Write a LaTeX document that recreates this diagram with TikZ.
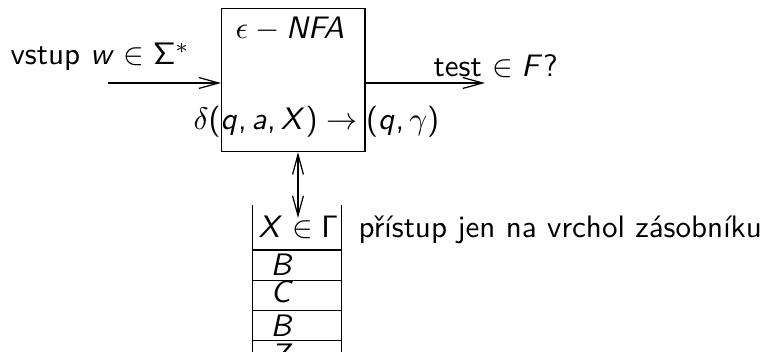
\documentclass[tikz,border=0pt]{standalone}
\usetikzlibrary{arrows.meta}
\DeclareMathAlphabet{\mathsfit}{OT1}{cmss}{m}{sl}
\DeclareSymbolFont{sfoperators}{OT1}{cmss}{m}{n}
\DeclareMathSymbol{(}{\mathopen}{sfoperators}{"28}
\DeclareMathSymbol{)}{\mathclose}{sfoperators}{"29}
\DeclareMathSymbol{,}{\mathpunct}{sfoperators}{"2C}
\DeclareMathSymbol{?}{\mathclose}{sfoperators}{"3F}
\tikzset{
  lbl/.style={anchor=base west, inner sep=0pt, font=\sffamily},
  arr/.style={-{Straight Barb[length=6.4pt,width=3.5pt]}},
  darr/.style={{Straight Barb[length=6.4pt,width=3.5pt]}-{Straight Barb[length=6.4pt,width=3.5pt]}},
  machine/.style={draw, minimum width=46.1pt, minimum height=46.1pt, inner sep=0pt},
}
\begin{document}
\begin{tikzpicture}[x=0.322pt,y=-0.322pt]
\useasboundingbox (0,0) rectangle (762,352);
% machine box
\node[machine] (nfa) at (293.3,80) {};
\node[lbl] (title) at (235,39) {$\epsilon - \mathsfit{NFA}$};
\node[lbl] (delta) at (193,130) {$\delta(\mathsfit{q}, \mathsfit{a}, \mathsfit{X}) \rightarrow (\mathsfit{q}, \gamma)$};
% input
\node[lbl] (vstup) at (10,65) {vstup $\mathsfit{w} \in \mathsf{\Sigma}^*$};
\coordinate (in) at (108,83);
\draw[arr] (in) -- (nfa.west |- in);
% output
\node[lbl] (test) at (433,77) {test $\in \mathsfit{F}?$};
\coordinate (out) at (485,83);
\draw[arr] (nfa.east |- out) -- (out);
% stack
\coordinate (sTL) at (252.3,205);
\coordinate (sTR) at (341.7,205);
\coordinate (sBL) at (252.3,360);
\coordinate (sBR) at (341.7,360);
\draw (sTL) -- (sBL);
\draw (sTR) -- (sBR);
\foreach \yy in {250,280.7,310.7,340.7}{
  \draw (252.3,\yy) -- (341.7,\yy);
}
\node[lbl] (top) at (258,238) {$\mathsfit{X} \in \mathsf{\Gamma}$};
\node[lbl] (b1) at (270,276) {$\mathsfit{B}$};
\node[lbl] (c1) at (270,303) {$\mathsfit{C}$};
\node[lbl] (b2) at (270,337) {$\mathsfit{B}$};
\node[lbl] (z1) at (270,366) {$\mathsfit{Z}$};
\node[lbl] (note) at (358,238) {přístup jen na vrchol zásobníku};
% access arrow
\coordinate (acc) at (298,218);
\draw[darr] (nfa.south -| acc) -- (acc);
\end{tikzpicture}
\end{document}
